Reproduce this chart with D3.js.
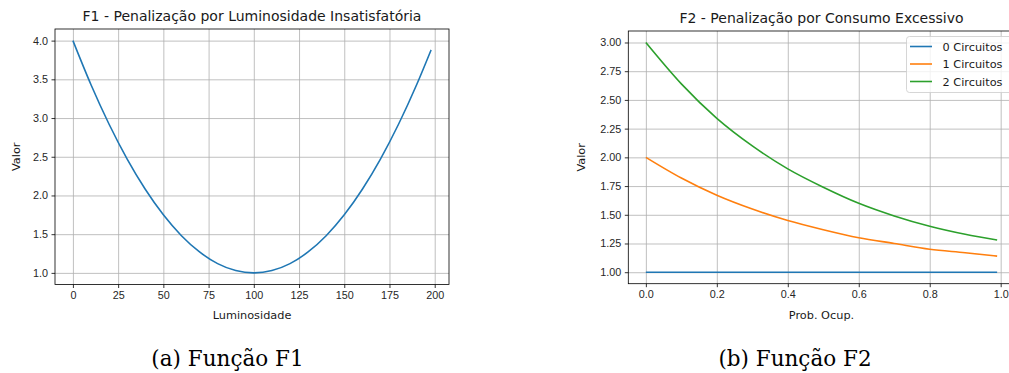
<!DOCTYPE html>
<html>
<head>
<meta charset="utf-8">
<script src="https://cdn.jsdelivr.net/npm/d3@7"></script>
<style>
	body { margin: 0; background: #fff; }
	svg { display: block; font-family: "DejaVu Sans", sans-serif; }
	.tick text { fill: #262626; font-size: 10.8px; }
	.tick line { stroke: #000; stroke-width: 0.8; }
	.grid line { stroke: #b0b0b0; stroke-width: 0.8; }
	.spine { fill: none; stroke: #000; stroke-width: 0.8; }
	.title { font-size: 14px; fill: #1a1a1a; }
	.label { font-size: 11.3px; fill: #1a1a1a; }
	.caption { font-family: "DejaVu Serif", serif; font-size: 21.5px; fill: #000; }
</style>
</head>
<body>
<svg id="chart" width="1009" height="373"></svg>
<script>
	//DATA - F1
	var lumX = [0, 10, 20, 30, 40, 50, 60, 70, 80, 90, 100, 110, 120, 130, 140, 150, 160, 170, 180, 190, 198];
	var lumY = [4.0, 3.43, 2.92, 2.47, 2.08, 1.75, 1.48, 1.27, 1.12, 1.03, 1.0, 1.03, 1.12, 1.27, 1.48, 1.75, 2.08, 2.47, 2.92, 3.43, 3.88];
	var lumXTicks = [0, 25, 50, 75, 100, 125, 150, 175, 200];
	var lumYTicks = [1.0, 1.5, 2.0, 2.5, 3.0, 3.5, 4.0];

	//DATA - F2
	var probX = [0, 0.1, 0.2, 0.3, 0.4, 0.5, 0.6, 0.7, 0.8, 0.9, 0.99];
	var circ0 = [1.0, 1.0, 1.0, 1.0, 1.0, 1.0, 1.0, 1.0, 1.0, 1.0, 1.0];
	var circ1 = [2.0, 1.82, 1.67, 1.55, 1.45, 1.37, 1.30, 1.25, 1.20, 1.17, 1.14];
	var circ2 = [3.0, 2.64, 2.34, 2.10, 1.90, 1.74, 1.60, 1.49, 1.40, 1.33, 1.28];
	var seriesNames = ["0 Circuitos", "1 Circuitos", "2 Circuitos"];
	var seriesColors = ["#1f77b4", "#ff7f0e", "#2ca02c"];
	var probXTicks = [0, 0.2, 0.4, 0.6, 0.8, 1.0];
	var probYTicks = [1.0, 1.25, 1.5, 1.75, 2.0, 2.25, 2.5, 2.75, 3.0];

	var svg = d3.select("#chart");

	drawPanel({
		box: { x0: 55, x1: 449, y0: 29, y1: 284.5 },
		xDomain: [-9.9, 207.9], yDomain: [0.85, 4.15],
		xTicks: lumXTicks, yTicks: lumYTicks,
		xFmt: d3.format("d"), yFmt: d3.format(".1f"),
		title: "F1 - Penalização por Luminosidade Insatisfatória",
		xLabel: "Luminosidade", yLabelX: 19.5,
		series: [{ x: lumX, y: lumY, color: "#1f77b4" }]
	});

	var f2 = drawPanel({
		box: { x0: 628.3, x1: 1014.7, y0: 31, y1: 283.7 },
		xDomain: [-0.0495, 1.0395], yDomain: [0.9, 3.1],
		xTicks: probXTicks, yTicks: probYTicks,
		xFmt: d3.format(".1f"), yFmt: d3.format(".2f"),
		title: "F2 - Penalização por Consumo Excessivo",
		xLabel: "Prob. Ocup.", yLabelX: 585,
		series: [circ0, circ1, circ2].map(function (s, i) {
			return { x: probX, y: s, color: seriesColors[i] };
		})
	});

	drawLegend(f2);

	//CAPTIONS
	svg.append("text").attr("class", "caption")
		.attr("x", 227.5).attr("y", 366).attr("text-anchor", "middle")
		.text("(a) Função F1");
	svg.append("text").attr("class", "caption")
		.attr("x", 795).attr("y", 366).attr("text-anchor", "middle")
		.text("(b) Função F2");

	function drawPanel(o) {
		var b = o.box;
		var x = d3.scaleLinear().domain(o.xDomain).range([b.x0, b.x1]);
		var y = d3.scaleLinear().domain(o.yDomain).range([b.y1, b.y0]);
		var g = svg.append("g");

		// grid
		g.append("g").attr("class", "grid")
			.attr("transform", "translate(0," + b.y1 + ")")
			.call(d3.axisBottom(x).tickValues(o.xTicks).tickSize(-(b.y1 - b.y0)).tickFormat(""))
			.call(function (s) { s.select(".domain").remove(); });
		g.append("g").attr("class", "grid")
			.attr("transform", "translate(" + b.x0 + ",0)")
			.call(d3.axisLeft(y).tickValues(o.yTicks).tickSize(-(b.x1 - b.x0)).tickFormat(""))
			.call(function (s) { s.select(".domain").remove(); });

		// lines
		var line = d3.line().curve(d3.curveMonotoneX);
		o.series.forEach(function (s) {
			g.append("path")
				.attr("d", line(s.x.map(function (v, i) { return [x(v), y(s.y[i])]; })))
				.attr("fill", "none")
				.attr("stroke", s.color)
				.attr("stroke-width", 1.6);
		});

		// axes
		g.append("g").attr("transform", "translate(0," + b.y1 + ")")
			.call(d3.axisBottom(x).tickValues(o.xTicks).tickFormat(o.xFmt).tickSize(3.5).tickPadding(3.5))
			.call(function (s) { s.select(".domain").remove(); s.selectAll("text").attr("font-family", null).attr("font-size", null); });
		g.append("g").attr("transform", "translate(" + b.x0 + ",0)")
			.call(d3.axisLeft(y).tickValues(o.yTicks).tickFormat(o.yFmt).tickSize(3.5).tickPadding(3.5))
			.call(function (s) { s.select(".domain").remove(); s.selectAll("text").attr("font-family", null).attr("font-size", null); });

		g.append("rect").attr("class", "spine")
			.attr("x", b.x0).attr("y", b.y0)
			.attr("width", b.x1 - b.x0).attr("height", b.y1 - b.y0);

		g.append("text").attr("class", "title")
			.attr("x", (b.x0 + b.x1) / 2).attr("y", b.y0 - 8)
			.attr("text-anchor", "middle").text(o.title);
		g.append("text").attr("class", "label")
			.attr("x", (b.x0 + b.x1) / 2).attr("y", 319)
			.attr("text-anchor", "middle").text(o.xLabel);
		g.append("text").attr("class", "label")
			.attr("transform", "translate(" + o.yLabelX + "," + ((b.y0 + b.y1) / 2) + ") rotate(-90)")
			.attr("text-anchor", "middle").text("Valor");

		return { g: g, x: x, y: y, box: b };
	}

	function drawLegend(p) {
		var lg = p.g.append("g").attr("class", "legend");
		lg.append("rect")
			.attr("x", 906.5).attr("y", 36.5).attr("width", 120).attr("height", 56)
			.attr("rx", 3).attr("fill", "#fff").attr("fill-opacity", 0.8)
			.attr("stroke", "#cccccc").attr("stroke-width", 0.8);
		lg.selectAll("line.item")
			.data(seriesNames).enter().append("line")
			.attr("class", "item")
			.attr("x1", 910).attr("x2", 932)
			.attr("y1", function (d, i) { return 46.5 + 17.5 * i; })
			.attr("y2", function (d, i) { return 46.5 + 17.5 * i; })
			.attr("stroke", function (d, i) { return seriesColors[i]; })
			.attr("stroke-width", 1.6);
		lg.selectAll("text.item")
			.data(seriesNames).enter().append("text")
			.attr("class", "item label")
			.attr("x", 942.5)
			.attr("y", function (d, i) { return 50.5 + 17.5 * i; })
			.text(function (d) { return d; });
	}
</script>
</body>
</html>
